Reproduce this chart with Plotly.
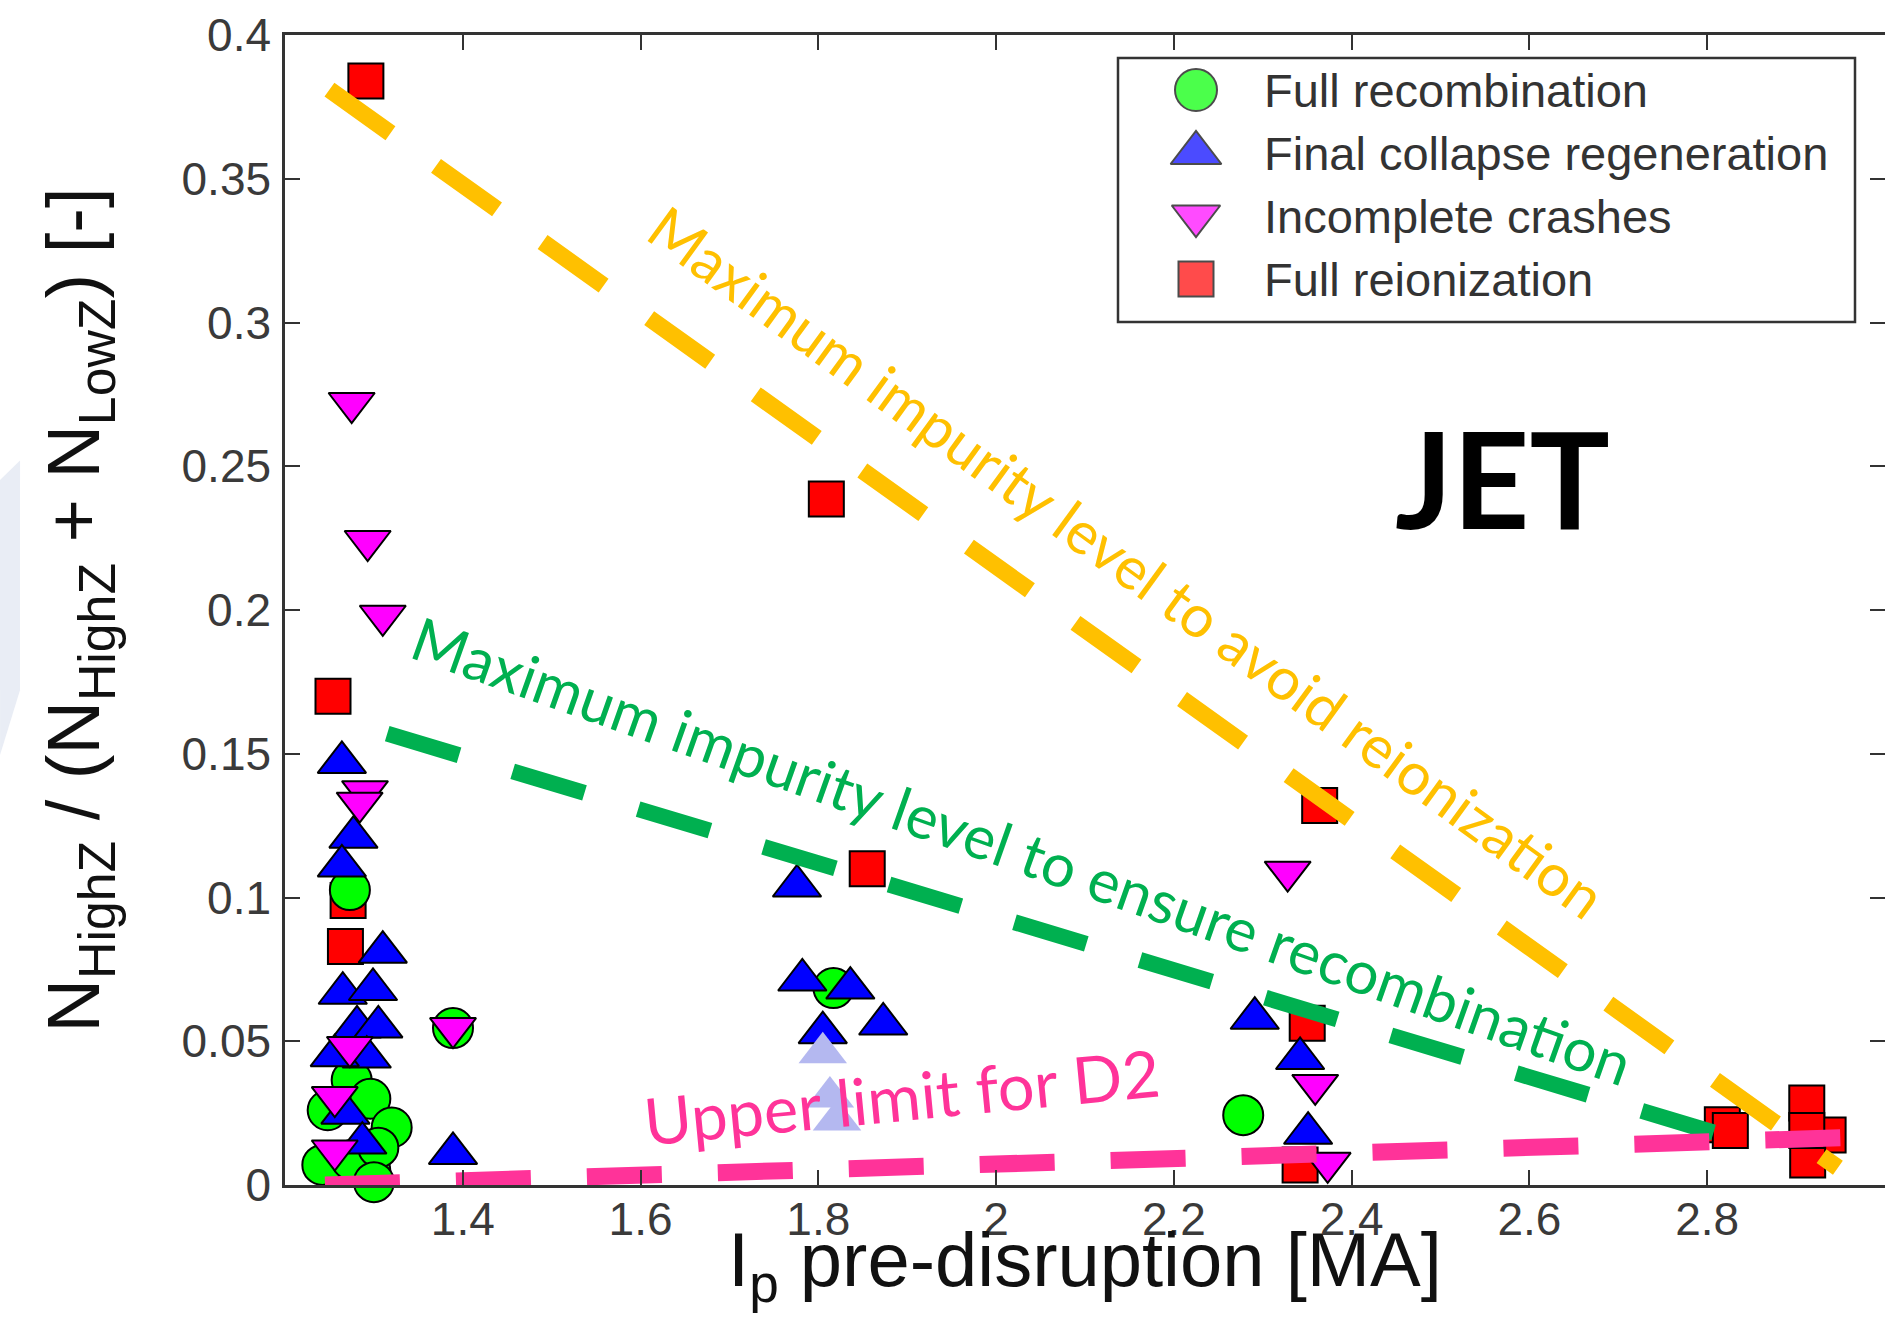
import plotly.graph_objects as go

# ---------------- data ----------------
series_names = ["Full recombination", "Final collapse regeneration",
                "Incomplete crashes", "Full reionization"]

rec_x = [1.273, 1.389, 1.275, 1.296, 1.320, 1.248, 1.242, 1.296, 1.275, 1.305, 1.300, 1.817, 2.278]
rec_y = [0.1026, 0.0546, 0.0365, 0.030, 0.020, 0.026, 0.007, 0.005, 0.0087, 0.013, 0.001, 0.0685, 0.0243]

fcr_x = [1.264, 1.277, 1.264, 1.310, 1.265, 1.299, 1.281, 1.305, 1.292, 1.256, 1.268, 1.287, 1.389,
         1.776, 1.782, 1.836, 1.805, 1.873, 2.291, 2.342, 2.351]
fcr_y = [0.147, 0.121, 0.111, 0.081, 0.0667, 0.068, 0.055, 0.055, 0.0445, 0.045, 0.025, 0.0146, 0.011,
         0.104, 0.0713, 0.0685, 0.053, 0.056, 0.058, 0.044, 0.018]

inc_x = [1.275, 1.293, 1.310, 1.290, 1.284, 1.273, 1.256, 1.256, 1.389, 2.328, 2.359, 2.373]
inc_y = [0.272, 0.224, 0.198, 0.137, 0.133, 0.048, 0.0306, 0.012, 0.0546, 0.109, 0.0348, 0.0077]

rei_x = [1.291, 1.254, 1.271, 1.268, 1.809, 1.855, 2.364, 2.350, 2.342, 2.817, 2.826, 2.912, 2.936, 2.913, 2.912]
rei_y = [0.384, 0.170, 0.099, 0.083, 0.2386, 0.110, 0.132, 0.0563, 0.007, 0.021, 0.019, 0.0285, 0.0174, 0.0087, 0.019]

faded_x = [1.805, 1.813, 1.821]
faded_y = [0.046, 0.0306, 0.0226]

# limit lines
reion_x = [1.250, 2.947]
reion_y = [0.381, 0.006]
recomb_x = [1.315, 2.810]
recomb_y = [0.157, 0.018]
d2_x = [1.245, 2.955]
d2_y = [0.0, 0.0165]

x_tick_vals = [1.4, 1.6, 1.8, 2.0, 2.2, 2.4, 2.6, 2.8, 3.0]
x_tick_text = ["1.4", "1.6", "1.8", "2", "2.2", "2.4", "2.6", "2.8", "3"]
y_tick_vals = [0, 0.05, 0.1, 0.15, 0.2, 0.25, 0.3, 0.35, 0.4]
y_tick_text = ["0", "0.05", "0.1", "0.15", "0.2", "0.25", "0.3", "0.35", "0.4"]

x_title = "I<sub>p</sub> pre-disruption [MA]"
y_title = "N<sub>HighZ</sub> / (N<sub>HighZ</sub> + N<sub>LowZ</sub>) [-]"

# ---------------- styles ----------------
W, H = 1885, 1328
ML, MR, MT, MB = 285, 0, 35, 143
PW, PH = W - ML - MR, H - MT - MB

colors = ["#00FF00", "#0000FF", "#FF00FF", "#FF0000"]
symbols = ["circle", "triangle-up", "triangle-down", "square"]
sizes = [40, 42, 40, 35]
ORANGE, GREEN, PINK = "#FFC000", "#00B050", "#FF3399"
SANS = "Liberation Sans, Arial, sans-serif"
TICK_FONT = dict(family=SANS, size=46, color="#3a3a3a")
ANN_FONT = "Lato, Open Sans, sans-serif"

fig = go.Figure()

marker_line = dict(color="#000000", width=2)
data_sets = {
    3: (rei_x, rei_y),
    0: (rec_x, rec_y),
    1: (fcr_x, fcr_y),
    2: (inc_x, inc_y),
}
for i in [3, 0, 1, 2]:
    xs, ys = data_sets[i]
    fig.add_trace(go.Scatter(
        x=xs, y=ys, mode="markers", name=series_names[i], showlegend=False,
        cliponaxis=False,
        marker=dict(symbol=symbols[i], size=sizes[i], color=colors[i], line=marker_line)))

fig.add_trace(go.Scatter(
    x=faded_x, y=faded_y, mode="markers", showlegend=False, cliponaxis=False,
    marker=dict(symbol="triangle-up", size=42, color="#B4B8F0", line=dict(width=0))))

for lx, ly, col, w in [(reion_x, reion_y, ORANGE, 17),
                       (recomb_x, recomb_y, GREEN, 16),
                       (d2_x, d2_y, PINK, 17)]:
    fig.add_trace(go.Scatter(x=lx, y=ly, mode="lines", showlegend=False, cliponaxis=False,
                             line=dict(color=col, width=w, dash="75px,56px")))

# ---------------- hand-drawn legend on a pixel overlay axis ----------------
leg_row0, leg_step = 55, 63
leg_marker_x = 911
leg_text_x = 977
fig.add_trace(go.Scatter(
    x=[leg_marker_x] * 4, y=[leg_row0 + k * leg_step for k in range(4)],
    xaxis="x2", yaxis="y2", mode="markers", showlegend=False, cliponaxis=False,
    marker=dict(symbol=symbols, size=[42, 44, 42, 35], color=colors, line=marker_line),
    hoverinfo="skip"))

annotations = []
for k, name in enumerate(series_names):
    annotations.append(dict(
        x=leg_text_x, y=leg_row0 + k * leg_step, xref="x2", yref="y2",
        text=name, showarrow=False, xanchor="left", yanchor="middle",
        font=dict(family=SANS, size=47, color="#333333")))

shapes = [
    dict(type="rect", xref="x2", yref="y2", x0=833, x1=1570, y0=23, y1=287,
         line=dict(color="#333333", width=2.5), fillcolor="rgba(0,0,0,0)", layer="above"),
    # pale slide-background sliver at the far left edge
    dict(type="path", xref="paper", yref="paper",
         path="M -0.1781,0.6130 L -0.1656,0.6300 L -0.1656,0.4304 L -0.1781,0.3739 Z",
         fillcolor="#E9EDF5", line=dict(width=0), layer="below"),
]

# ---------------- text labels ----------------
annotations += [
    # x-axis title (placed as annotation so it can sit as close to the tick labels as in the reference)
    dict(x=0.5, y=-0.026, xref="paper", yref="paper", text=x_title, showarrow=False,
         xanchor="center", yanchor="top", font=dict(family=SANS, size=76, color="#111111")),
    dict(x=2.147, y=0.2167, text="Maximum impurity level to avoid reionization", textangle=36,
         showarrow=False, font=dict(family=ANN_FONT, size=59, color=ORANGE)),
    dict(x=2.029, y=0.1165, text="Maximum impurity level to ensure recombination", textangle=19.5,
         showarrow=False, font=dict(family=ANN_FONT, size=60, color=GREEN)),
    dict(x=1.894, y=0.031, text="Upper limit for D2", textangle=-5.5,
         showarrow=False, font=dict(family=ANN_FONT, size=65, color=PINK)),
    dict(x=2.570, y=0.246, text="<b>JET</b>", showarrow=False,
         font=dict(family="Lato, Open Sans, sans-serif", size=134, color="#000000")),
]

axis_common = dict(
    showgrid=False, zeroline=False, showline=True, linecolor="#333333", linewidth=2.5,
    mirror="ticks", ticks="inside", ticklen=15, tickwidth=2, tickcolor="#333333",
    tickfont=TICK_FONT, tickmode="array")

fig.update_layout(
    width=W, height=H, margin=dict(l=ML, r=MR, t=MT, b=MB, autoexpand=False),
    paper_bgcolor="white", plot_bgcolor="white", showlegend=False,
    xaxis=dict(range=[1.2, 3.0], tickvals=x_tick_vals, ticktext=x_tick_text,
               ticklabelstandoff=-8, **axis_common),
    yaxis=dict(range=[0, 0.4], tickvals=y_tick_vals, ticktext=y_tick_text,
               ticklabelstandoff=2,
               title=dict(text=y_title, standoff=58,
                          font=dict(family=SANS, size=74, color="#111111")),
               **axis_common),
    xaxis2=dict(overlaying="x", range=[0, PW], visible=False, fixedrange=True),
    yaxis2=dict(overlaying="y", range=[PH, 0], visible=False, fixedrange=True),
    annotations=annotations, shapes=shapes,
)

fig.write_html("out.html")
